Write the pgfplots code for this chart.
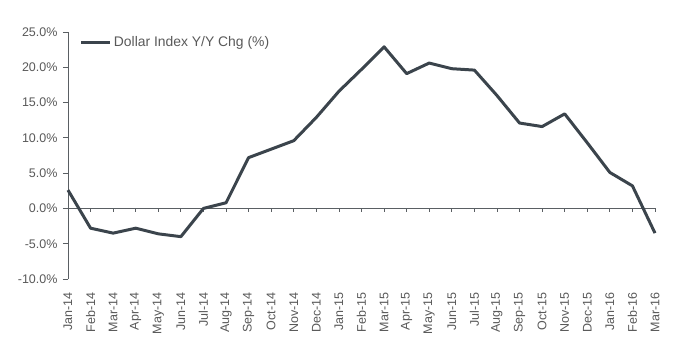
\documentclass[border=0pt]{standalone}
\usepackage{pgfplots}
\pgfplotsset{compat=1.18}
\usepackage{fontspec}
\setmainfont{Liberation Sans}
\definecolor{lineC}{HTML}{3B444C}
\definecolor{txt}{HTML}{595959}
\definecolor{axC}{HTML}{5A5F63}
\newcommand{\tfont}{\fontsize{12.5bp}{15bp}\selectfont}
\begin{document}
\begin{tikzpicture}
\useasboundingbox (-68bp,-74bp) rectangle (612bp,279bp);
\begin{axis}[
  at={(0,0)}, anchor=south west,
  scale only axis, width=587bp, height=247bp,
  xmin=0, xmax=26, ymin=-10, ymax=25,
  axis y line*=left, axis x line*=bottom,
  x axis line style={draw=none},
  y axis line style={axC, line width=0.8bp},
  ytick={-10,-5,0,5,10,15,20,25},
  yticklabel={\pgfmathprintnumber[fixed,fixed zerofill,precision=1]{\tick}\%},
  /pgf/number format/assume math mode=true,
  xtick={0,...,26},
  xticklabels={Jan-14,Feb-14,Mar-14,Apr-14,May-14,Jun-14,Jul-14,Aug-14,Sep-14,Oct-14,Nov-14,Dec-14,Jan-15,Feb-15,Mar-15,Apr-15,May-15,Jun-15,Jul-15,Aug-15,Sep-15,Oct-15,Nov-15,Dec-15,Jan-16,Feb-16,Mar-16},
  x tick style={draw=none},
  y tick style={axC, line width=0.8bp},
  tick align=outside, major tick length=5bp,
  tick label style={font=\tfont, text=txt},
  xticklabel style={rotate=90, anchor=east},
  xticklabel shift=5bp, yticklabel shift=2bp,
  legend style={at={(rel axis cs:0.02,0.99)}, anchor=north west, draw=none, fill=none,
    font=\fontsize{13.9bp}{15bp}\selectfont, text=txt, inner sep=0pt},
  legend image code/.code={\draw[#1] (0bp,0bp) -- (29bp,0bp);},
  legend cell align=left,
  clip=false,
]
\draw[axC, line width=0.8bp] (axis cs:0,0) -- (axis cs:26,0);
\pgfplotsinvokeforeach{1,...,26}{\draw[axC, line width=0.8bp] (axis cs:#1,0) -- ([yshift=-4bp]axis cs:#1,0);}
\addplot[lineC, line width=3bp, line join=round] coordinates {
(0,2.6) (1,-2.8) (2,-3.5) (3,-2.8) (4,-3.6) (5,-4.0) (6,0.0) (7,0.8) (8,7.2) (9,8.4) (10,9.6) (11,12.9) (12,16.6) (13,19.7) (14,22.9) (15,19.1) (16,20.6) (17,19.8) (18,19.6) (19,16.0) (20,12.1) (21,11.6) (22,13.4) (23,9.3) (24,5.1) (25,3.2) (26,-3.5)
};
\addlegendentry{Dollar Index Y/Y Chg (\%)}
\end{axis}
\end{tikzpicture}
\end{document}
